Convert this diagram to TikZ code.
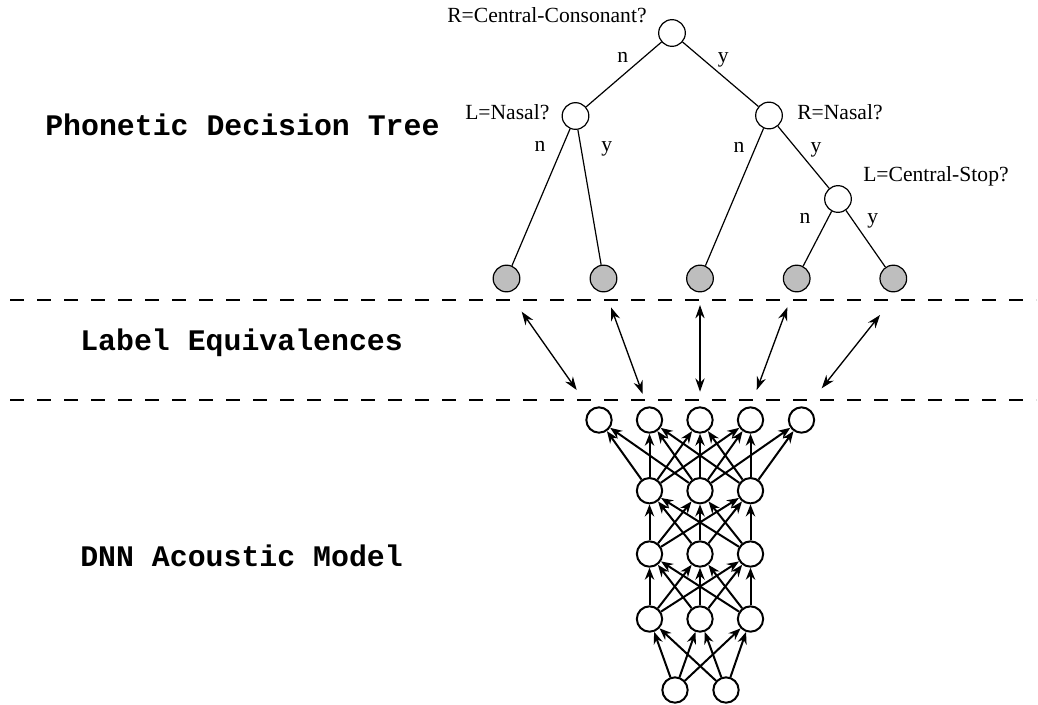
\documentclass[tikz,border=0pt]{standalone}
\usepackage{fontspec}
\setmainfont{Liberation Serif}
\newfontfamily\layerfont{Liberation Mono}
\usetikzlibrary{arrows.meta}
\definecolor{leafgray}{RGB}{190,190,190}

\begin{document}
\begin{tikzpicture}[x=0.75pt,y=-0.75pt,
  qnode/.style={circle,draw,line width=0.9pt,minimum size=20pt,inner sep=0pt,fill=white},
  leaf/.style={qnode,fill=leafgray},
  branch/.style={line width=0.9pt},
  ans/.style={font=\fontsize{16.2}{19}\selectfont,anchor=base,inner sep=0pt},
  qlabel/.style={font=\fontsize{16.2}{19}\selectfont,anchor=base west,inner sep=0pt},
  layer/.style={font=\layerfont\bfseries\fontsize{22.4}{26}\selectfont,anchor=base west,inner sep=0pt},
  sepline/.style={line width=1.5pt,dash pattern=on 10.5pt off 9.75pt},
  unit/.style={circle,draw,line width=1.5pt,minimum size=19pt,inner sep=0pt},
  conn/.style={line width=1.5pt,-{Stealth[length=9pt,width=7pt]}},
  equiv/.style={line width=1pt,{Stealth[length=10pt,width=7pt]}-{Stealth[length=10pt,width=7pt]}},
]
\useasboundingbox (0,0) rectangle (1038,704);

% section titles
\node[layer] (tTree) at (45,135) {Phonetic Decision Tree};
\node[layer] (tEquiv) at (80,350) {Label Equivalences};
\node[layer] (tDNN) at (80,566.7) {DNN Acoustic Model};

% section separators
\draw[sepline] (10,300) -- (1036,300);
\draw[sepline] (10,400) -- (1036,400);

% decision tree
\node[qnode] (root) at (672,33) {};
\node[qnode] (ln) at (575.5,116) {};
\node[qnode] (rn) at (769,115.5) {};
\node[qnode] (cs) at (838,199) {};
\node[leaf] (l1) at (506.5,278.5) {};
\node[leaf] (l2) at (603.5,278.5) {};
\node[leaf] (l3) at (700,278.5) {};
\node[leaf] (l4) at (796.7,278.5) {};
\node[leaf] (l5) at (893.3,278.5) {};

\draw[branch] (root) -- (ln);
\draw[branch] (root) -- (rn);
\draw[branch] (ln) -- (l1);
\draw[branch] (ln) -- (l2);
\draw[branch] (rn) -- (l3);
\draw[branch] (rn) -- (cs);
\draw[branch] (cs) -- (l4);
\draw[branch] (cs) -- (l5);

\node[qlabel] (qRoot) at (447,22.7) {R=Central-Consonant?};
\node[qlabel] (qLn) at (465,119) {L=Nasal?};
\node[qlabel] (qRn) at (797,119) {R=Nasal?};
\node[qlabel] (qCs) at (863,181.7) {L=Central-Stop?};

\node[ans] (aRootN) at (622.7,62) {n};
\node[ans] (aRootY) at (723.3,62) {y};
\node[ans] (aLnN) at (540,151.7) {n};
\node[ans] (aLnY) at (606.7,151.7) {y};
\node[ans] (aRnN) at (739,152) {n};
\node[ans] (aRnY) at (816,152) {y};
\node[ans] (aCsN) at (805,223) {n};
\node[ans] (aCsY) at (872.7,223) {y};

% label equivalences
\coordinate (e1a) at (521.7,311.7); \coordinate (e1b) at (576.7,390);
\coordinate (e2a) at (611,307.3);   \coordinate (e2b) at (642.7,394);
\coordinate (e3a) at (700,305);     \coordinate (e3b) at (700,391.7);
\coordinate (e4a) at (787.3,307.3); \coordinate (e4b) at (756.7,390);
\coordinate (e5a) at (880,315);     \coordinate (e5b) at (821.7,388.3);
\foreach \i in {1,...,5} \draw[equiv] (e\i a) -- (e\i b);

% DNN acoustic model
\foreach \n/\x in {1/599,2/649.5,3/700,4/750.5,5/801.5}
  \node[unit] (t\n) at (\x,420) {};
\foreach \n/\x in {1/649.5,2/700,3/750.5} {
  \node[unit] (a\n) at (\x,490.7) {};
  \node[unit] (b\n) at (\x,554) {};
  \node[unit] (c\n) at (\x,619) {};
}
\node[unit] (i1) at (675,690) {};
\node[unit] (i2) at (726,690) {};

\foreach \s in {1,2} \foreach \d in {1,2,3} \draw[conn] (i\s) -- (c\d);
\foreach \s in {1,2,3} \foreach \d in {1,2,3} {
  \draw[conn] (c\s) -- (b\d);
  \draw[conn] (b\s) -- (a\d);
}
\foreach \d in {1,2,3,4} \draw[conn] (a1) -- (t\d);
\foreach \d in {1,2,3,4,5} \draw[conn] (a2) -- (t\d);
\foreach \d in {2,3,4,5} \draw[conn] (a3) -- (t\d);
\end{tikzpicture}
\end{document}
